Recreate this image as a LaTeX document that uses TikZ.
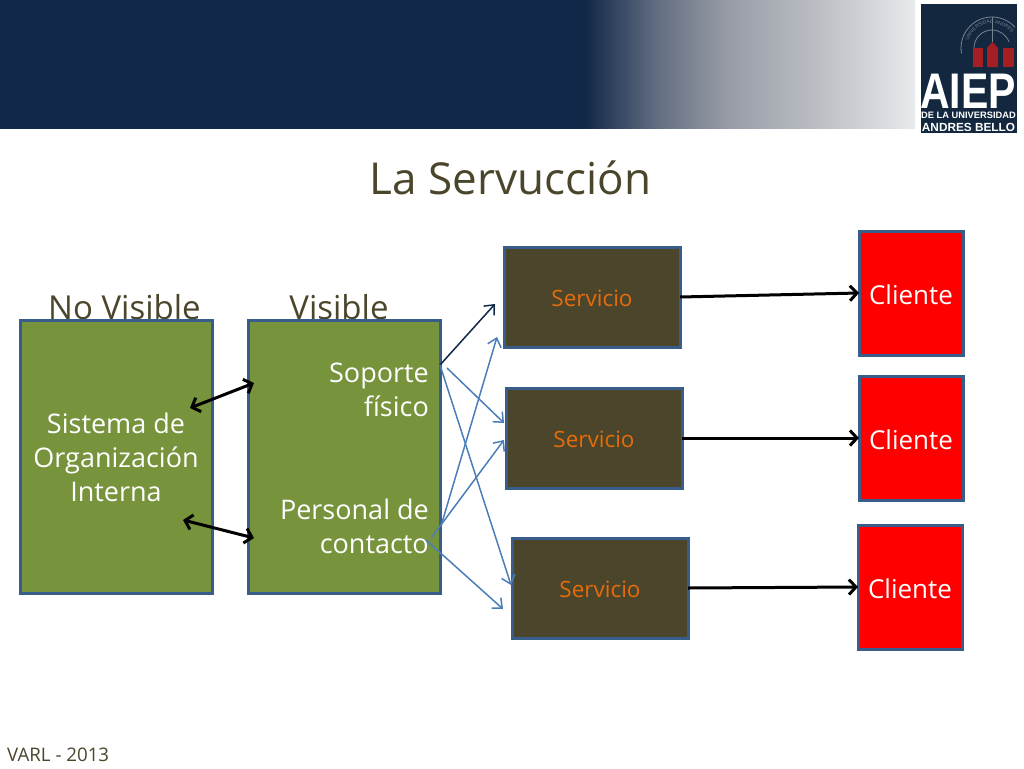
\documentclass[tikz,border=0pt]{standalone}
\usepackage{fontspec}
\usepackage{graphicx}
\setmainfont{Open Sans}
\newfontfamily\logofont{Liberation Sans}
\usetikzlibrary{arrows.meta,decorations.text}
\definecolor{navy}{HTML}{122848}
\definecolor{logonavy}{HTML}{13283F}
\definecolor{ringgray}{HTML}{77838F}
\definecolor{olive}{HTML}{4B452B}
\definecolor{grass}{HTML}{77933C}
\definecolor{edge}{HTML}{385D8A}
\definecolor{link}{HTML}{4A7EBB}
\definecolor{redbox}{HTML}{FF0000}
\definecolor{orangetx}{HTML}{E46C0A}
\definecolor{logored}{HTML}{A31F24}
\pgfdeclarehorizontalshading{headerfade}{100bp}{
 rgb(0bp)=(0.071,0.157,0.282);
 rgb(25bp)=(0.071,0.157,0.282);
 rgb(36.4bp)=(0.40,0.44,0.52);
 rgb(46.5bp)=(0.59,0.61,0.65);
 rgb(61.7bp)=(0.75,0.76,0.78);
 rgb(75bp)=(0.91,0.915,0.93);
 rgb(100bp)=(0.91,0.915,0.93)}
\tikzset{
 x=1pt,y=-1pt,
 box/.style={draw=edge,line width=3pt,inner sep=0pt,outer sep=0pt,anchor=north west},
 greenbox/.style={box,fill=grass,minimum width=192pt,minimum height=273pt},
 boxtext/.style={text=white,font=\fontsize{27}{34}\selectfont,inner sep=0pt},
 servbox/.style={box,fill=olive,text=orangetx,font=\fontsize{22.5}{26}\selectfont,minimum width=176pt,minimum height=100pt,text height=19pt,text depth=0pt},
 clibox/.style={box,fill=redbox,text=white,font=\fontsize{26}{28}\selectfont,minimum width=104pt,minimum height=124pt,text height=23pt,text depth=0pt},
 heading/.style={text=olive,font=\fontsize{33}{36}\selectfont,inner sep=0pt},
 bluearrow/.style={draw=link,line width=1.5pt,-{Straight Barb[length=8pt,width=14pt]}},
 darkarrow/.style={draw=navy,line width=1.5pt,-{Straight Barb[length=8pt,width=14pt]}},
 blackarrow/.style={draw=black,line width=3pt,-{Straight Barb[length=7pt,width=15pt]}},
 twoway/.style={draw=black,line width=3pt,{Straight Barb[length=7pt,width=15pt]}-{Straight Barb[length=7pt,width=15pt]}},
 logotx/.style={text=white,inner sep=0pt,anchor=base},
}
\begin{document}
\begin{tikzpicture}
\useasboundingbox (0,0) rectangle (1024,768);
% header
\fill[navy] (0,0) rectangle (586,129);
\shade[shading=headerfade] (585,0) rectangle (915,128.6);
% logo
\fill[logonavy] (920.5,4) rectangle (1016.5,133);
\draw[ringgray,line width=.8pt] (961.5,53.4) arc (170:318:31);
\draw[ringgray,line width=.8pt] (974,48) arc (180:340:18);
\path[postaction={decorate,decoration={text along path,text align=center,
  text={|\logofont\fontsize{4.8}{5}\selectfont\color{ringgray}|UNIVERSIDAD ANDRES}}}]
  (967.9,43.7) arc (190:330:24.5);
\draw[ringgray,line width=.6pt] (992.5,17) -- (992.5,42);
\fill[logored] (973,48) rectangle (983,67);
\fill[logored] (987,48) -- (992.5,42) -- (998,48) -- (998,67) -- (987,67) -- cycle;
\fill[logored] (1003,48) rectangle (1014,67);
\node[logotx,font=\logofont\bfseries\fontsize{41}{41}\selectfont] (aiep) at (968,108) {\scalebox{1}[1.22]{AIEP}};
\node[logotx,font=\logofont\bfseries\fontsize{9.3}{10}\selectfont] (dela) at (968.5,118.5) {DE LA UNIVERSIDAD};
\node[logotx,font=\logofont\bfseries\fontsize{11.8}{12}\selectfont] (ab) at (968.5,131) {ANDRES BELLO};
% title
\node[heading,font=\fontsize{44}{48}\selectfont] (title) at (510.5,178) {La Servucción};
% headings (behind the boxes)
\node[heading] (nv) at (124.5,307) {No Visible};
\node[heading] (vis) at (339,307) {Visible};
% left boxes
\node[greenbox] (org) at (20,320) {};
\node[boxtext,align=center] (orgt) at (116,457.5) {Sistema de\\Organización\\Interna};
\node[greenbox] (sup) at (248,320) {};
\node[boxtext,align=right,anchor=east] (supa) at (429,390) {Soporte\\físico};
\node[boxtext,align=right,anchor=east] (supb) at (429,526.5) {Personal de\\contacto};
% service boxes
\node[servbox] (s1) at (504,247) {Servicio};
\node[servbox] (s2) at (506,388) {Servicio};
\node[servbox] (s3) at (512,538) {Servicio};
% client boxes
\node[clibox] (c1) at (859,231) {Cliente};
\node[clibox] (c2) at (859,376) {Cliente};
\node[clibox] (c3) at (858,525) {Cliente};
% connector anchors
\coordinate (a1) at (440,365);
\coordinate (a2) at (447,368);
\coordinate (a3) at (441,526);
\coordinate (a4) at (432,537);
\coordinate (a5) at (426,540);
\coordinate (t1) at (495,304);
\coordinate (t2) at (497,337);
\coordinate (t3) at (504,423);
\coordinate (t4) at (504,440);
\coordinate (t5) at (511,585);
\coordinate (t6) at (503,609);
\coordinate (o1) at (190,408);
\coordinate (o2) at (183,520);
\coordinate (p1) at (254,383);
\coordinate (p2) at (254,538);
% connectors
\draw[darkarrow] (a1) -- (t1);
\draw[bluearrow] (a1) -- (t5);
\draw[bluearrow] (a2) -- (t3);
\draw[bluearrow] (a3) -- (t2);
\draw[bluearrow] (a4) -- (t4);
\draw[bluearrow] (a5) -- (t6);
\draw[twoway] (o1) -- (p1);
\draw[twoway] (o2) -- (p2);
\draw[blackarrow] (s1.east) -- (c1.west);
\draw[blackarrow] (s2.east) -- (c2.west);
\draw[blackarrow] (s3.east) -- (c3.west);
% footer
\node[text=olive,font=\fontsize{18.7}{22}\selectfont,inner sep=0pt,anchor=west] (foot) at (7,755) {VARL - 2013};
\end{tikzpicture}
\end{document}
